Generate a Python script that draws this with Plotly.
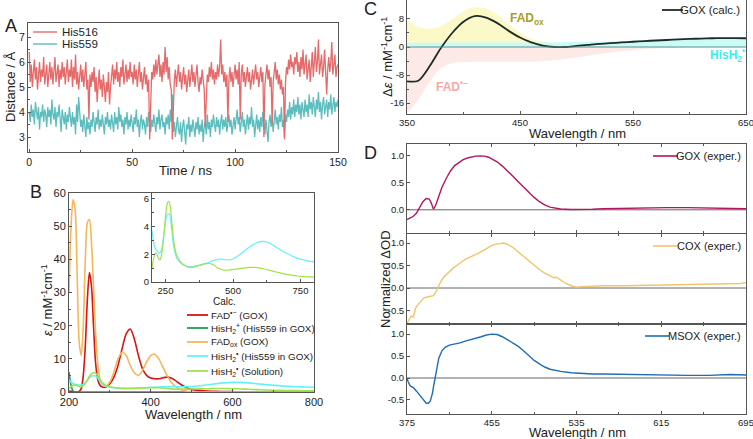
import plotly.graph_objects as go

W, H = 753, 439
def px(x): return x / W
def py(y): return 1 - y / H

# ---------------- Panel A data ----------------
time_ns = [i * 0.5 for i in range(301)]
his516 = [
6.4,5.2,5.9,5.0,5.6,6.1,5.3,5.8,4.9,5.5,6.0,5.2,5.7,5.4,6.2,5.1,5.6,5.9,5.0,5.5,
6.0,5.3,5.8,5.1,5.6,6.2,5.2,5.5,5.9,5.0,5.7,5.3,6.0,5.4,5.8,5.1,5.6,6.1,5.2,5.7,
5.4,6.1,5.0,5.8,5.3,6.3,5.1,5.6,4.9,5.5,5.9,5.2,5.7,5.0,5.4,6.0,4.9,5.3,3.7,5.5,
5.0,5.6,5.2,5.8,4.8,5.4,4.4,5.1,5.7,4.9,5.3,4.6,5.5,5.0,4.4,5.2,4.8,5.6,4.3,5.0,
5.4,5.9,5.1,5.7,5.3,6.0,5.2,5.6,5.0,5.8,5.4,6.1,5.1,5.5,5.9,5.2,5.7,5.3,6.0,5.4,
5.6,5.1,5.9,5.3,5.7,5.0,5.5,6.0,5.2,5.6,4.9,5.4,5.8,5.1,5.5,4.8,5.3,2.9,5.0,5.6,
5.3,5.9,5.4,6.1,5.5,5.8,6.3,5.4,5.9,5.2,6.0,5.5,6.6,5.6,6.2,5.3,5.8,5.1,4.9,2.9,
4.8,5.3,5.7,5.0,5.5,5.9,5.2,5.6,4.9,5.4,5.8,5.1,5.5,4.8,5.3,5.7,5.0,5.4,5.9,5.2,
5.6,5.0,5.5,5.9,5.2,4.8,5.4,5.1,5.7,5.3,4.9,3.4,5.0,5.5,5.2,5.8,5.4,6.0,5.3,5.7,
5.1,5.6,5.3,5.9,5.4,5.8,6.9,5.5,5.9,5.2,5.6,5.0,5.5,3.6,5.3,5.8,5.2,5.6,5.0,5.4,
5.9,5.3,5.7,5.1,6.0,3.7,5.5,5.9,5.2,5.6,5.0,5.4,5.8,5.2,5.6,4.9,5.3,5.7,5.1,5.5,
5.9,5.3,5.6,5.0,5.4,5.8,5.2,5.6,3.0,5.1,5.5,5.9,5.3,5.7,5.0,5.4,3.5,5.2,5.6,6.0,
5.3,5.7,5.1,5.5,4.9,5.3,4.7,5.0,2.9,5.2,5.8,5.5,6.1,5.7,6.3,5.8,6.0,5.5,6.2,5.9,
6.4,5.6,6.0,5.4,6.2,5.7,6.5,5.5,5.9,6.3,5.3,5.8,6.1,5.2,5.7,6.4,5.4,5.9,6.6,5.6,
6.0,6.9,5.5,5.9,6.3,5.4,5.8,6.5,5.2,4.7,5.7,6.2,5.6,6.0,6.8,5.5,5.9,6.3,5.4,5.8,5.9]
his559 = [
4.0,3.6,4.3,3.8,4.1,3.5,4.4,3.9,3.7,4.2,3.3,4.0,3.8,4.3,3.6,4.1,3.9,3.4,4.2,3.8,
4.1,3.5,4.5,3.9,3.7,4.2,3.4,4.0,3.8,4.3,3.6,3.2,4.1,3.8,3.5,4.0,3.3,3.9,3.6,4.2,
3.7,3.4,4.0,3.5,3.8,3.1,4.3,3.6,4.6,3.9,3.4,3.7,3.2,3.9,3.5,3.0,3.8,3.3,3.6,3.1,
3.7,3.4,4.0,3.6,3.2,3.8,3.5,4.1,3.3,3.7,3.4,3.9,3.6,3.1,3.8,3.5,4.0,3.4,3.7,3.3,
3.9,3.6,3.2,4.0,3.5,3.8,3.3,4.2,3.6,3.9,3.4,3.7,3.1,3.8,3.5,4.0,3.3,3.7,3.4,3.9,
3.6,3.2,3.8,3.5,4.1,3.4,3.7,3.0,3.6,3.9,3.3,3.7,3.5,3.1,3.8,3.4,4.0,3.5,3.2,3.7,
3.4,3.9,3.6,3.2,3.8,3.5,4.1,3.3,3.7,3.9,3.4,3.6,3.1,3.8,3.5,3.9,3.3,4.1,3.6,4.7,
3.2,3.6,3.0,3.5,3.8,3.3,3.1,3.6,2.8,3.4,3.7,3.2,2.7,3.5,3.3,3.8,3.0,3.5,3.2,3.7,
3.4,3.0,3.6,3.3,3.8,3.1,3.5,3.2,3.7,2.8,3.4,3.6,3.1,3.9,3.3,3.6,3.0,3.7,3.4,3.9,
3.5,3.2,3.8,3.4,3.7,3.1,3.6,3.9,3.3,3.7,3.4,3.8,3.2,3.6,3.9,3.4,3.7,3.1,3.5,3.8,
3.3,3.7,4.1,3.5,3.8,3.2,3.6,4.0,3.4,3.7,3.1,3.6,3.9,3.3,3.8,3.5,4.2,3.4,3.7,3.0,
3.6,3.9,3.3,3.7,3.2,3.8,3.4,4.0,3.5,3.1,3.7,3.3,2.8,3.6,3.9,3.4,3.8,3.2,3.7,4.1,
3.5,3.8,3.3,3.9,3.6,4.2,3.4,3.7,3.0,3.9,3.6,4.1,3.8,4.4,3.7,4.2,3.9,4.5,3.8,4.3,
4.0,4.6,3.9,4.3,3.7,4.4,4.1,3.8,4.5,4.0,4.3,3.8,4.7,4.1,4.4,3.9,4.6,4.2,3.8,4.5,
4.1,4.8,4.0,4.4,3.7,4.3,4.6,3.9,4.2,4.5,3.8,4.4,4.1,4.7,3.9,4.3,4.6,4.0,4.4,4.2,4.5]

# ---------------- Panel B data ----------------
wl_b = [200,205,210,215,220,225,230,235,240,245,250,255,260,265,270,275,280,290,300,310,
        320,330,340,350,360,370,380,390,400,410,420,430,440,450,460,470,480,490,500,520,
        540,560,580,600,620,640,660,680,700,720,740,760,780,800]
fad_rad = [0.3,0.2,0.1,0.0,0.0,0.2,1.0,5.0,14,28,36,32,20,9,4,2.2,1.6,1.5,2.5,4.5,
           8,13,17.5,19,16,11,7,5,4.2,4.0,4.0,4.3,4.5,4.2,3.5,2.6,1.8,1.2,0.8,0.5,
           0.3,0.2,0.15,0.1,0.05,0,0,0,0,0,0,0,0,0]
hish2_plus = [6,2,0.3,0,0,0,0,0,0,0,0,0,0,0,0,0,0,0,0,0,
              0,0,0,0,0,0,0,0,0,0,0,0,0,0,0,0,0,0,0,0,
              0,0,0,0,0,0,0,0,0,0,0,0,0,0]
fad_ox = [30,50,58,55,35,15,11,20,40,51,52,45,32,18,9,4.5,2.5,1.8,3,6,
          10,12,11,8,5.8,5,6.5,9,11,11.4,10,7.5,5,3,1.8,1,0.5,0.2,0.1,0,
          0,0,0,0,0,0,0,0,0,0,0,0,0,0]
hish2_rad_gox = [3.7,3.0,2.5,2.3,2.2,2.1,2.1,2.3,2.8,3.6,4.3,4.8,4.9,4.85,4.3,3.4,2.6,1.8,1.5,1.3,
                 1.2,1.1,1.1,1.1,1.15,1.2,1.25,1.3,1.35,1.4,1.5,1.55,1.6,1.65,1.65,1.6,1.6,1.6,1.65,1.9,
                 2.2,2.5,2.75,2.9,2.9,2.75,2.5,2.25,2.05,1.85,1.7,1.6,1.5,1.45]
hish2_rad_sol = [1.0,1.6,2.0,2.1,1.9,1.65,1.6,1.9,2.6,3.6,4.7,5.5,5.8,5.7,5.0,4.0,3.0,2.0,1.6,1.35,
                 1.2,1.1,1.05,1.05,1.1,1.15,1.2,1.27,1.32,1.33,1.3,1.2,1.05,0.95,0.88,0.85,0.85,0.87,0.9,0.95,
                 1.0,1.05,1.05,1.0,0.92,0.82,0.72,0.62,0.55,0.48,0.43,0.4,0.37,0.35]

# ---------------- Panel C data ----------------
wl_c = [350,360,370,380,390,400,410,420,430,440,450,460,470,480,490,500,510,520,530,540,
        550,560,570,580,590,600,610,620,630,640,650]
fadox_band = [7.7,5.8,5.2,6.0,8.0,10.2,11.3,11.0,9.2,6.5,4.2,2.4,1.6,1.3,0.9,0.5,0.2,0,0,0,
              0,0,0,0,0,0,0,0,0,0,0]
fadrad_band = [-19,-15,-10,-6,-4.6,-4.3,-4.2,-4.2,-4.2,-4.2,-4.2,-4.2,-4.0,-3.8,-3.4,-3.0,-2.5,-2.0,-1.6,-1.2,
               -0.9,-0.6,-0.45,-0.3,-0.2,-0.1,-0.05,0,0,0,0]
hisrad_band = [1.2,1.2,1.2,1.2,1.25,1.25,1.25,1.3,1.3,1.3,1.3,1.3,1.3,1.3,1.35,1.4,1.48,1.55,1.62,1.7,
               1.8,1.9,2.0,2.1,2.2,2.3,2.4,2.5,2.55,2.6,2.65]
gox_calc = [-9.8,-9.6,-5.5,-0.3,4.0,7.2,8.8,8.4,6.8,4.6,2.7,1.3,0.4,0.0,0.0,0.3,0.6,0.9,1.1,1.3,
            1.5,1.7,1.85,2.0,2.15,2.3,2.4,2.5,2.55,2.55,2.5]

# ---------------- Panel D data ----------------
wl_gox = [375,378,381,384,387,390,393,396,398,400,402,405,408,412,416,420,424,428,432,436,
          440,444,448,452,456,460,465,470,475,480,485,490,495,500,505,510,515,520,530,540,
          550,560,580,600,620,640,660,680,695]
gox_exp = [-0.18,-0.15,-0.12,-0.06,0.05,0.15,0.21,0.2,0.12,0.01,0.08,0.25,0.42,0.58,0.72,0.82,0.87,0.93,0.96,0.98,
           0.995,1.0,0.995,0.975,0.94,0.89,0.81,0.72,0.62,0.52,0.42,0.32,0.23,0.15,0.09,0.05,0.03,0.015,0.005,0.005,
           0.01,0.02,0.03,0.04,0.04,0.04,0.035,0.03,0.02]
wl_cox = [375,377,379,381,383,385,387,389,391,394,397,400,402,404,407,410,414,418,422,426,
          430,434,438,442,446,450,454,458,462,466,470,475,480,485,490,495,500,505,510,513,
          516,520,525,530,535,540,550,560,580,600,620,640,660,680,690,695]
cox_exp = [-0.78,-0.7,-0.62,-0.65,-0.45,-0.38,-0.33,-0.28,-0.22,-0.2,-0.18,-0.17,-0.1,0.0,0.15,0.25,0.35,0.43,0.5,0.58,
           0.64,0.68,0.72,0.77,0.82,0.88,0.93,0.97,0.99,1.0,0.97,0.9,0.8,0.7,0.6,0.5,0.41,0.33,0.27,0.23,
           0.24,0.17,0.1,0.05,0.02,0.03,0.04,0.05,0.05,0.06,0.07,0.08,0.08,0.09,0.1,0.12]
wl_msox = [375,376,378,381,384,387,390,393,395,397,399,400,401,403,405,408,411,415,420,425,
           430,435,440,445,450,455,460,465,470,475,480,485,490,495,500,505,510,515,520,530,
           540,550,560,580,600,620,640,660,680,695]
msox_exp = [0.0,-0.08,-0.18,-0.22,-0.3,-0.38,-0.48,-0.57,-0.58,-0.52,-0.35,-0.2,-0.05,0.2,0.45,0.62,0.7,0.75,0.77,0.8,
            0.84,0.87,0.9,0.94,0.98,1.0,0.99,0.94,0.87,0.8,0.72,0.62,0.5,0.4,0.32,0.25,0.2,0.17,0.15,0.12,
            0.1,0.09,0.09,0.08,0.07,0.06,0.06,0.06,0.08,0.07]

FONT = "Liberation Sans, Arial, sans-serif"
AX = "#555555"
TXT = "#222222"

C_516, C_559 = "#e66a6a", "#5bbdbd"
C_FADRAD, C_HISP, C_FADOX, C_HISR, C_HISS = "#d81414", "#1f9e50", "#f5b65c", "#62f2ff", "#a0e24c"
C_GOXC = "#1e2b28"
C_GOX, C_COX, C_MSOX = "#b5145f", "#f2c46c", "#1e6db4"

fig = go.Figure()

# Panel A
fig.add_trace(go.Scatter(x=time_ns, y=his559, mode="lines", name="His559",
                         line=dict(color=C_559, width=1.3), xaxis="x", yaxis="y"))
fig.add_trace(go.Scatter(x=time_ns, y=his516, mode="lines", name="His516",
                         line=dict(color=C_516, width=1.3), xaxis="x", yaxis="y"))

# Panel B main
b_series = [
    ("FAD<sup>•−</sup> (GOX)", fad_rad, C_FADRAD),
    ("HisH<sub>2</sub><sup>+</sup> (His559 in GOX)", hish2_plus, C_HISP),
    ("FAD<sub>ox</sub> (GOX)", fad_ox, C_FADOX),
    ("HisH<sub>2</sub><sup>•</sup> (His559 in GOX)", hish2_rad_gox, C_HISR),
    ("HisH<sub>2</sub><sup>•</sup> (Solution)", hish2_rad_sol, C_HISS),
]
for name, ys, col in b_series:
    fig.add_trace(go.Scatter(x=wl_b, y=ys, mode="lines", name=name,
                             line=dict(color=col, width=1.6, shape="spline", smoothing=0.8),
                             xaxis="x2", yaxis="y2"))
# inset
for ys, col in [(hish2_rad_gox, C_HISR), (hish2_rad_sol, C_HISS)]:
    fig.add_trace(go.Scatter(x=wl_b, y=ys, mode="lines",
                             line=dict(color=col, width=1.2, shape="spline", smoothing=0.8),
                             xaxis="x3", yaxis="y3"))

# Panel C
fig.add_trace(go.Scatter(x=wl_c, y=fadox_band, mode="lines", fill="tozeroy",
                         fillcolor="#fcf9c9", line=dict(width=0, shape="spline"), xaxis="x4", yaxis="y4"))
fig.add_trace(go.Scatter(x=wl_c, y=fadrad_band, mode="lines", fill="tozeroy",
                         fillcolor="#fdeae7", line=dict(width=0, shape="spline"), xaxis="x4", yaxis="y4"))
fig.add_trace(go.Scatter(x=wl_c, y=hisrad_band, mode="lines", fill="tozeroy",
                         fillcolor="#c9fbf7", line=dict(width=0, shape="spline"), xaxis="x4", yaxis="y4"))
fig.add_trace(go.Scatter(x=wl_c, y=gox_calc, mode="lines", name="GOX (calc.)",
                         line=dict(color=C_GOXC, width=1.8, shape="spline", smoothing=0.8),
                         xaxis="x4", yaxis="y4"))

# Panel D
d_series = [(wl_gox, gox_exp, C_GOX, "5"), (wl_cox, cox_exp, C_COX, "6"), (wl_msox, msox_exp, C_MSOX, "7")]
for xs, ys, col, k in d_series:
    fig.add_trace(go.Scatter(x=xs, y=ys, mode="lines", line=dict(color=col, width=1.4),
                             xaxis="x" + k, yaxis="y" + k))

def axstyle(size=10, **kw):
    d = dict(showline=True, mirror=True, linecolor=AX, linewidth=1, ticks="inside", ticklen=3,
             tickcolor=AX, showgrid=False, zeroline=False, automargin=False,
             ticklabeloverflow="allow",
             tickfont=dict(family=FONT, size=size, color=TXT))
    d.update(kw)
    return d

def minor(vals):
    return dict(tickvals=vals, ticks="inside", ticklen=2, tickcolor=AX)

layout = dict(
    width=W, height=H, margin=dict(l=0, r=0, t=0, b=0, autoexpand=False),
    paper_bgcolor="white", plot_bgcolor="rgba(0,0,0,0)",
    font=dict(family=FONT, color=TXT),
    showlegend=False,
)
# A
layout["xaxis"] = axstyle(10.5, domain=[px(28), px(338)], range=[-0.6, 150], anchor="y",
                          tickvals=[0, 50, 100, 150], minor=minor([25, 75, 125]))
layout["yaxis"] = axstyle(10.5, domain=[py(152), py(23)], range=[2.4, 7.56], anchor="x",
                          tickvals=[3, 4, 5, 6, 7], minor=minor([3.5, 4.5, 5.5, 6.5]))
# B
layout["xaxis2"] = axstyle(11, domain=[px(69), px(314)], range=[200, 800], anchor="y2",
                           tickvals=[200, 400, 600, 800], minor=minor([300, 500, 700]))
layout["yaxis2"] = axstyle(11, domain=[py(392), py(193)], range=[0, 60], anchor="x2",
                           tickvals=[0, 10, 20, 30, 40, 50, 60], minor=minor([5, 15, 25, 35, 45, 55]))
# inset
layout["xaxis3"] = axstyle(9.5, domain=[px(152), px(314)], range=[200, 800], anchor="y3",
                           tickvals=[250, 500, 750], minor=minor([375, 625]))
layout["yaxis3"] = axstyle(9.5, domain=[py(282), py(193)], range=[0, 6.4], anchor="x3",
                           tickvals=[0, 2, 4, 6], minor=minor([1, 3, 5]))
# C
layout["xaxis4"] = axstyle(9.5, domain=[px(407), px(746)], range=[350, 650], anchor="y4",
                           tickvals=[350, 450, 550, 650], minor=minor([400, 500, 600]))
layout["yaxis4"] = axstyle(9.5, domain=[py(114), 1.0], range=[-19.1, 13.4], anchor="x4",
                           tickvals=[8, 0, -8, -16], ticktext=["8", "0", "-8", "-16"],
                           minor=minor([4, -4, -12]))
# D
d_domains = [(144, 233, [-0.43, 1.22], [1.0, 0.5, 0.0], ["1.0", "0.5", "0.0"]),
             (234, 324, [-0.8, 1.2], [1.0, 0.5, 0.0, -0.5], ["1.0", "0.5", "0.0", "-0.5"]),
             (324, 414, [-0.82, 1.23], [1.0, 0.5, 0.0, -0.5], ["1.0", "0.5", "0.0", "-0.5"])]
for i, (top, bot, rng, tv, tt) in enumerate(d_domains):
    k = str(5 + i)
    layout["xaxis" + k] = axstyle(9.5, domain=[px(407), px(746)], range=[375, 695], anchor="y" + k,
                                  tickvals=[375, 455, 535, 615, 695], mirror="ticks",
                                  minor=minor([415, 495, 575, 655]),
                                  showticklabels=(i == 2))
    layout["yaxis" + k] = axstyle(9.5, domain=[py(bot), py(top)], range=rng, anchor="x" + k,
                                  tickvals=tv, ticktext=tt)

fig.update_layout(**layout)

# zero lines
fig.add_shape(type="line", xref="x4 domain", yref="y4", x0=0, x1=1, y0=0, y1=0,
              line=dict(color="#5f8f86", width=1))
for k in ["5", "6", "7"]:
    fig.add_shape(type="line", xref="x%s domain" % k, yref="y" + k, x0=0, x1=1, y0=0, y1=0,
                  line=dict(color="#666666", width=1), layer="below")

def ann(x, y, text, size=13, angle=0, color=TXT, xanchor="center", yanchor="middle"):
    fig.add_annotation(x=px(x), y=py(y), xref="paper", yref="paper", text=text, showarrow=False,
                       textangle=angle, font=dict(family=FONT, size=size, color=color),
                       xanchor=xanchor, yanchor=yanchor)

def legline(x0, x1, y, color, width=1.6):
    fig.add_shape(type="line", xref="paper", yref="paper", x0=px(x0), x1=px(x1), y0=py(y), y1=py(y),
                  line=dict(color=color, width=width))

# legend A
legline(33, 57, 32, C_516, 1.4); ann(60, 32, "His516", size=11.5, xanchor="left")
legline(33, 57, 44, C_559, 1.4); ann(60, 44, "His559", size=11.5, xanchor="left")
# legend B
ann(211, 301, "Calc.", size=10, xanchor="left")
leg_b_y = [315, 328, 342, 356, 371]
for (name, ys, col), yy in zip(b_series, leg_b_y):
    legline(187, 208, yy, col, 1.8)
    ann(209, yy, name, size=9.8, xanchor="left")
# legend C
legline(662, 683, 10, C_GOXC, 1.8); ann(742, 10, "GOX (calc.)", size=11.5, xanchor="right")
# legend D
legline(653, 678, 156, C_GOX, 1.6); ann(743, 156, "GOX (exper.)", size=11, xanchor="right")
legline(653, 678, 246, C_COX, 1.6); ann(743, 246, "COX (exper.)", size=11, xanchor="right")
legline(645, 669, 336, C_MSOX, 1.6); ann(743, 336, "MSOX (exper.)", size=11, xanchor="right")

# panel labels
ann(11, 26, "A", size=18)
ann(36, 192, "B", size=18)
ann(370, 9, "C", size=18)
ann(370, 153, "D", size=18)
# axis titles
ann(185, 170, "Time / ns", size=13)
ann(10, 87, "Distance / Å", size=13, angle=-90)
ann(193, 414, "Wavelength / nm", size=13)
ann(47, 300, "<i>ε</i> / mM<sup>-1</sup>cm<sup>-1</sup>", size=13, angle=-90)
ann(577, 133, "Wavelength / nm", size=13)
ann(387, 57, "Δ<i>ε</i> / mM<sup>-1</sup>cm<sup>-1</sup>", size=13, angle=-90)
ann(577, 432, "Wavelength / nm", size=13)
ann(385, 279, "Normalized ΔOD", size=13, angle=-90)
# panel C labels
ann(527, 19, "<b>FAD<sub>ox</sub></b>", size=12, color="#a89f22")
ann(452, 86, "<b>FAD<sup>•−</sup></b>", size=12, color="#f7a9a6")
ann(727, 55, "<b>HisH<sub>2</sub><sup>•</sup></b>", size=12, color="#38f0f0")

fig.write_html("out.html", config={"displayModeBar": False},
               post_script="document.body.style.margin='0px';")
